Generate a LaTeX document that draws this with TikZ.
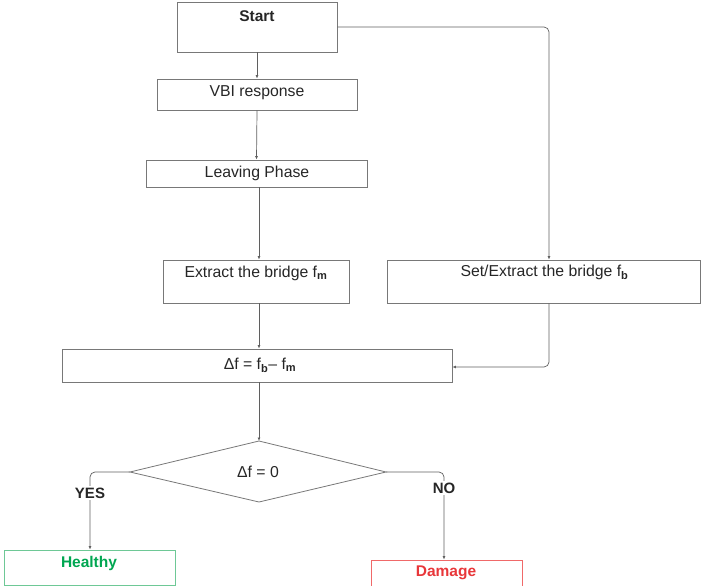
\documentclass[tikz,border=0pt]{standalone}
\usepackage{fontspec}
\setmainfont{Liberation Sans}
\usetikzlibrary{arrows.meta}
\definecolor{lineg}{RGB}{95,95,95}
\definecolor{boxg}{RGB}{120,120,120}
\definecolor{hgreen}{RGB}{0,166,81}
\definecolor{hborder}{RGB}{110,200,150}
\definecolor{dred}{RGB}{232,55,58}
\definecolor{dborder}{RGB}{240,105,105}
\tikzset{
  box/.style={draw=boxg, line width=0.9pt, rectangle, inner sep=0pt},
  txt/.style={font=\fontsize{15.8}{18}\selectfont, inner sep=0pt, text=black!85},
  conn/.style={draw=lineg, line width=0.7pt, rounded corners=5pt, -{Latex[length=3.5pt,width=3pt]}},
  lbl/.style={font=\fontsize{15}{18}\selectfont\bfseries, inner sep=0pt, text=black!85}
}
\begin{document}
\begin{tikzpicture}[x=1pt,y=-1pt]
\useasboundingbox (0,0) rectangle (702,586);
\clip (0,0) rectangle (702,586);
% boxes
\node[box, minimum width=160, minimum height=50] (start) at (257,27) {};
\node[txt, font=\fontsize{15.5}{18}\selectfont\bfseries] (starttxt) at (257,16) {Start};
\node[box, minimum width=200, minimum height=31] (vbi) at (257,94.5) {};
\node[txt] (vbitxt) at (257,93) {VBI response};
\node[box, minimum width=221, minimum height=27] (leave) at (256.5,173.5) {};
\node[txt] (leavetxt) at (257,173) {Leaving Phase};
\node[box, minimum width=186, minimum height=43] (extract) at (256,281.5) {};
\node[txt] (extracttxt) at (256,273) {Extract the bridge f\textsubscript{\textbf{m}}};
\node[box, minimum width=313, minimum height=43] (set) at (543.5,281.5) {};
\node[txt] (settxt) at (544.5,272) {Set/Extract the bridge f\textsubscript{\textbf{b}}};
\node[box, minimum width=390, minimum height=33] (delta) at (257,365.5) {};
\node[txt] (deltatxt) at (260,365) {Δf = f\textsubscript{\textbf{b}}– f\textsubscript{\textbf{m}}};
% diamond
\coordinate (dt) at (259,441);
\coordinate (dl) at (130,472);
\coordinate (dr) at (386,472);
\coordinate (db) at (259,502);
\draw[draw=boxg, line width=0.8pt] (dt) -- (dr) -- (db) -- (dl) -- cycle;
\node[txt] (dtxt) at (258,472) {Δf = 0};
% outcomes
\node[draw=hborder, line width=0.9pt, minimum width=171, minimum height=35, inner sep=0pt] (healthy) at (89.5,567.5) {};
\node[txt, font=\fontsize{15.5}{18}\selectfont\bfseries, text=hgreen] (healthytxt) at (89,563) {Healthy};
\node[draw=dborder, line width=0.9pt, minimum width=151, minimum height=34, inner sep=0pt] (damage) at (446.5,577) {};
\node[txt, font=\fontsize{15.5}{18}\selectfont\bfseries, text=dred] (damagetxt) at (446,573) {Damage};
% connectors
\draw[conn] (start.south) -- (vbi.north);
\draw[conn] (vbi.south) -- (leave.north);
\draw[conn] (leave.south -| 259,0) -- (extract.north -| 259,0);
\draw[conn] (start.east) -- (549,27) -- (set.north -| 549,0);
\draw[conn] (extract.south -| 259,0) -- (delta.north -| 259,0);
\draw[conn] (set.south -| 549,0) -- (549,367) -- (delta.east |- 0,367);
\draw[conn] (delta.south -| 259,0) -- (dt);
\draw[conn] (dl) -- (90,472) -- (healthy.north -| 90,0);
\draw[conn] (dr) -- (444,472) -- (damage.north -| 444,0);
\node[lbl, fill=white, inner sep=2pt] (yes) at (90,493) {YES};
\node[lbl, fill=white, inner sep=2pt] (no) at (444,488) {NO};
\end{tikzpicture}
\end{document}
